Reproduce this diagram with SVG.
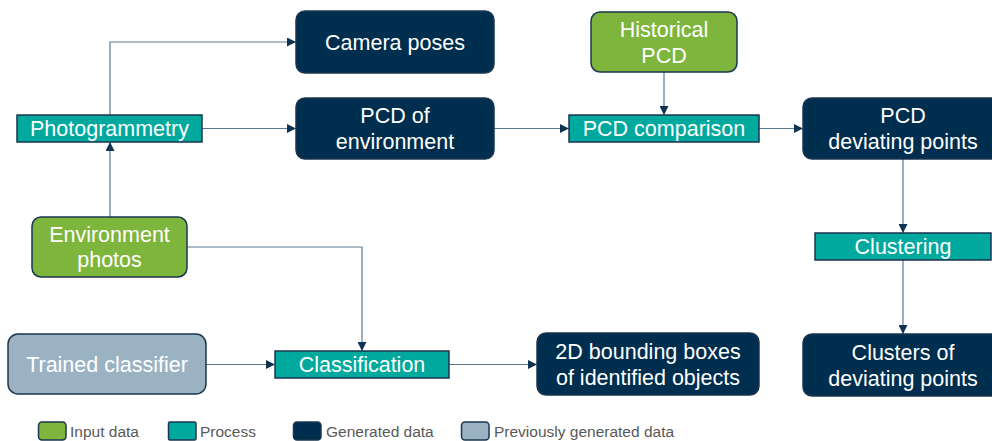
<svg xmlns="http://www.w3.org/2000/svg" width="992" height="441" viewBox="0 0 992 441">
<defs>
<style>
.t{font-family:"Liberation Sans",Arial,sans-serif;fill:#ffffff;text-anchor:middle}
.n{font-size:21.5px}
.p{font-size:21.5px}
.data{fill:#002e4e;stroke:#1b3650;stroke-width:1.5}
.input{fill:#7eb53c;stroke:#1b3650;stroke-width:1.5}
.prev{fill:#9bb2c3;stroke:#1b3650;stroke-width:1.5}
.proc{fill:#00a99d;stroke:#1b3650;stroke-width:1.5}
.c{fill:none;stroke:#5b7a93;stroke-width:1.2}
.lg{font-family:"Liberation Sans",Arial,sans-serif;font-size:15.5px;fill:#595959}
</style>
<marker id="ah" viewBox="0 0 10 10" refX="10" refY="5" markerWidth="9" markerHeight="9" markerUnits="userSpaceOnUse" orient="auto">
<path d="M0,0 L10,5 L0,10 z" fill="#0f3350"/>
</marker>
</defs>
<rect width="992" height="441" fill="#ffffff"/>

<g id="connectors">
<path class="c" d="M110,115 V42 H296" marker-end="url(#ah)"/>
<path class="c" d="M202,128.5 H296" marker-end="url(#ah)"/>
<path class="c" d="M110,217 V142" marker-end="url(#ah)"/>
<path class="c" d="M494,128.5 H569" marker-end="url(#ah)"/>
<path class="c" d="M664,72 V115" marker-end="url(#ah)"/>
<path class="c" d="M759,128.5 H803" marker-end="url(#ah)"/>
<path class="c" d="M903,159 V233" marker-end="url(#ah)"/>
<path class="c" d="M903,260 V334" marker-end="url(#ah)"/>
<path class="c" d="M187,247 H362 V351" marker-end="url(#ah)"/>
<path class="c" d="M206,364.5 H275" marker-end="url(#ah)"/>
<path class="c" d="M449,364.5 H537" marker-end="url(#ah)"/>
</g>

<g id="camera-poses">
<rect class="data" x="296" y="11" width="198" height="62" rx="9"/>
<text class="t n" x="395" y="50">Camera poses</text>
</g>
<g id="pcd-environment">
<rect class="data" x="296" y="98" width="198" height="61" rx="9"/>
<text class="t n" x="395" y="123">PCD of</text>
<text class="t n" x="395" y="149">environment</text>
</g>
<g id="photogrammetry">
<rect class="proc" x="17" y="115" width="185" height="27"/>
<text class="t p" x="109.5" y="136">Photogrammetry</text>
</g>
<g id="environment-photos">
<rect class="input" x="32" y="217" width="155" height="60" rx="9"/>
<text class="t n" x="109.5" y="241.5">Environment</text>
<text class="t n" x="109.5" y="266.5">photos</text>
</g>
<g id="historical-pcd">
<rect class="input" x="591" y="12" width="146" height="60" rx="9"/>
<text class="t n" x="664" y="36.5">Historical</text>
<text class="t n" x="664" y="62.5">PCD</text>
</g>
<g id="pcd-comparison">
<rect class="proc" x="569" y="115" width="190" height="27"/>
<text class="t p" x="664" y="136">PCD comparison</text>
</g>
<g id="pcd-deviating-points">
<rect class="data" x="803" y="98" width="200" height="61" rx="9"/>
<text class="t n" x="903" y="123">PCD</text>
<text class="t n" x="903" y="148.5">deviating points</text>
</g>
<g id="clustering">
<rect class="proc" x="815" y="233" width="176" height="27"/>
<text class="t p" x="903" y="254">Clustering</text>
</g>
<g id="clusters-deviating-points">
<rect class="data" x="803" y="334" width="200" height="62" rx="9"/>
<text class="t n" x="903" y="360">Clusters of</text>
<text class="t n" x="903" y="385.5">deviating points</text>
</g>
<g id="trained-classifier">
<rect class="prev" x="8" y="334" width="198" height="60" rx="10"/>
<text class="t n" x="107" y="371.5">Trained classifier</text>
</g>
<g id="classification">
<rect class="proc" x="275" y="351" width="174" height="27"/>
<text class="t p" x="362" y="372">Classification</text>
</g>
<g id="bounding-boxes">
<rect class="data" x="537" y="333" width="222" height="62" rx="9"/>
<text class="t n" x="648" y="358.5">2D bounding boxes</text>
<text class="t n" x="648" y="385">of identified objects</text>
</g>

<g id="legend">
<rect class="input" x="38.5" y="422" width="27.5" height="18" rx="3.5"/>
<text class="lg" x="70" y="437">Input data</text>
<rect class="proc" x="168.5" y="422" width="27.5" height="18" rx="1.5"/>
<text class="lg" x="200" y="437">Process</text>
<rect class="data" x="293.5" y="422" width="27.5" height="18" rx="3.5"/>
<text class="lg" x="326" y="437">Generated data</text>
<rect class="prev" x="461.5" y="422" width="27.5" height="18" rx="3.5"/>
<text class="lg" x="494" y="437">Previously generated data</text>
</g>
</svg>
